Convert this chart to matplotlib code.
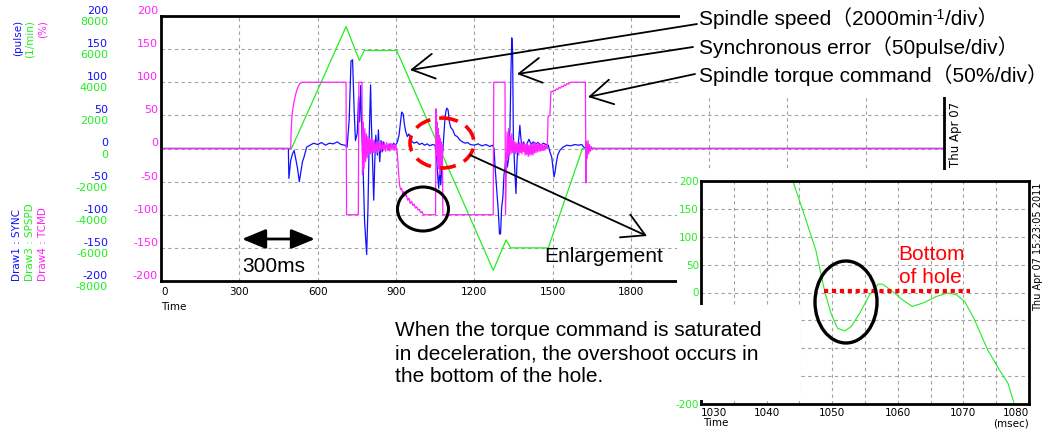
import matplotlib
matplotlib.use("Agg")
import matplotlib.pyplot as plt
from matplotlib.patches import Rectangle, Ellipse

# --- recorded traces (time in msec) ---
# Draw1: synchronous error (pulse)
sync_t = [0, 488, 490, 497, 504, 510, 516, 523, 530, 536, 542, 548, 558, 571, 585, 600,
          615, 630, 645, 660, 675, 690, 705, 713, 721, 728, 734, 740, 745, 752, 757, 761,
          765, 770, 775, 780, 788, 793, 798, 803, 806, 811, 815, 819, 823, 829, 833, 838,
          843, 848, 853, 858, 864, 870, 877, 884, 891, 898, 905, 912, 917, 922, 928, 933,
          938, 944, 950, 956, 963, 970, 980, 990, 1000, 1010, 1020, 1030, 1040, 1050, 1055,
          1060, 1064, 1068, 1072, 1077, 1082, 1087, 1091, 1095, 1100, 1105, 1110, 1118, 1126,
          1135, 1145, 1155, 1165, 1175, 1185, 1200, 1215, 1230, 1245, 1260, 1270, 1276, 1280,
          1286, 1292, 1297, 1301, 1305, 1310, 1314, 1318, 1322, 1327, 1332, 1337, 1341, 1344,
          1347, 1350, 1355, 1360, 1364, 1368, 1372, 1375, 1379, 1384, 1390, 1396, 1403, 1410,
          1418, 1426, 1435, 1445, 1455, 1465, 1475, 1484, 1490, 1497, 1502, 1506, 1510, 1514,
          1520, 1528, 1540, 1555, 1570, 1585, 1600, 1612, 1620, 1628, 1640, 3000]
sync_v = [0, 0, -45, -18, -8, -3, -15, -30, -50, -35, -20, -13, 2, 5, 8, 6,
          9, 5, 8, 7, 10, 6, 5, 2, 43, 132, 134, 58, 12, 23, 78, 40,
          95, 20, -40, -110, -160, -90, 20, 96, 40, -28, -78, -20, 20, -10, 28, -20,
          12, -5, 10, 0, 6, -2, 7, 3, 8, 5, 9, 20, 38, 55, 52, 35,
          25, 18, 22, 14, 10, 8, 10, 6, 8, 5, 7, 4, 6, 5, -10,
          -40, -60, -30, -55, -20, 10, 40, 55, 61, 58, 40, 32, 28, 20,
          18, 13, 10, 8, 9, 6, 5, 7, 4, 6, 3, 5, 0, -28,
          -60, -93, -129, -129, -90, -73, -40, -28, -8, -28, -15, 30, 120, 167,
          150, 20, -30, -68, -20, 5, 20, 35, 15, 0, 10, -2, 8, 14,
          6, 10, 7, 9, 5, 8, 6, 5, -5, -13, -30, -43, -35, -23,
          -10, -3, 2, 5, 4, 6, 5, 6, 2, 0, 0, 0]

# Draw3: spindle speed (1/min)
spd_t = [0, 500, 709, 760, 779, 903, 1273, 1322, 1340, 1484, 1615, 3000]
spd_v = [0, 0, 7360, 5320, 5920, 5920, -7360, -5520, -6000, -6000, 0, 0]

# Draw4: spindle torque command (%)
tcmd_t = [0, 497, 499, 502, 506, 512, 518, 525, 532, 540, 709, 711, 756, 758, 770, 772,
          775, 778, 781, 784, 787, 790, 793, 796, 799, 802, 805, 808, 811, 814, 817, 821,
          825, 829, 833, 837, 841, 845, 849, 853, 857, 861, 865, 869, 873, 877, 881, 885,
          889, 893, 897, 901, 903, 906, 910, 914, 918, 922, 926, 930, 935, 940, 945, 950,
          955, 960, 965, 970, 975, 980, 985, 990, 995, 1000, 1005, 1052, 1054, 1056, 1058,
          1060, 1062, 1064, 1066, 1068, 1070, 1072, 1074, 1076, 1078, 1080, 1273, 1275, 1318,
          1320, 1323, 1326, 1329, 1332, 1335, 1338, 1341, 1344, 1347, 1350, 1353, 1356, 1359,
          1362, 1365, 1368, 1371, 1374, 1377, 1380, 1383, 1386, 1389, 1392, 1395, 1398, 1401,
          1404, 1407, 1410, 1413, 1416, 1419, 1422, 1425, 1428, 1431, 1434, 1437, 1440, 1443,
          1446, 1449, 1452, 1455, 1458, 1461, 1464, 1467, 1470, 1473, 1476, 1480, 1483, 1490,
          1494, 1500, 1505, 1510, 1515, 1520, 1525, 1530, 1535, 1540, 1545, 1550, 1555, 1560,
          1565, 1572, 1626, 1628, 1630, 1633, 1636, 1639, 1642, 1645, 1648, 1652, 1656, 1660,
          3000]
tcmd_v = [0, 0, 30, 50, 62, 75, 85, 93, 98, 100, 100, -100, -100, 100, 100, -40,
          40, -30, 30, -20, 22, -14, 18, -10, 15, -8, 14, -6, 12, -6, 13, -5,
          10, -6, 11, -4, 9, -5, 10, -3, 8, -4, 9, -3, 7, -4, 8, -2,
          6, -3, 6, -2, 0, -10, -35, -55, -62, -60, -68, -65, -72, -70, -78, -75,
          -83, -80, -86, -84, -90, -88, -93, -92, -97, -95, -100, -100, 60, -10, 40,
          -20, 30, -30, 20, -40, 15, -30, 10, -20, 5, -100, -100, 100, 100,
          -100, -40, 25, -15, 30, -10, 18, -8, 22, -6, 12, -5, 10, -8,
          8, -6, 7, -10, 9, -6, 8, -8, 9, -5, 7, -10, 6, -9,
          7, -12, 5, -10, 7, -9, 6, -10, 8, -7, 9, -6, 7, -5,
          8, -4, 7, -4, 6, -3, 5, -3, 6, -2, 4, 0, 48, 50,
          86, 86, 88, 87, 90, 89, 92, 91, 94, 93, 96, 95, 98, 97,
          99, 100, 100, -52, 10, -15, 12, -8, 6, -4, 3, -2, 1, 0,
          0]

# enlarged spindle speed around the bottom of the hole (1/min)
ins_t = [1044.0, 1045.5, 1047.5, 1048.8, 1049.8, 1050.8, 1051.9, 1052.9, 1054.2, 1055.7,
         1057.0, 1057.7, 1059.2, 1060.7, 1062.2, 1063.8, 1065.9, 1067.6, 1068.9, 1070.2,
         1071.7, 1073.7, 1075.5, 1076.8, 1077.7]
ins_v = [200, 148, 76, 5, -37, -64, -69, -61, -37, -4,
         15, 15, 2, -13, -25, -19, -7, -1, -4, -16,
         -49, -103, -139, -163, -198]
hole_t = [1048.8, 1071.0]
hole_v = [3.5, 3.5]

x_ticks = list(range(0, 3001, 300))
x_labels = ["0", "300", "600", "900", "1200", "1500", "1800", "", "", "", ""]
y_ticks = [200, 150, 100, 50, 0, -50, -100, -150, -200]
ins_y_labels = ["200", "150", "100", "50", "0", "", "", "", "-200"]
SPD_PER_DIV = 40  # 1/min per pulse unit on the shared scale

BLUE = "#1010ff"
GREEN = "#22ee22"
MAGENTA = "#ff22ff"
GRID = "#a0a0a0"
FAM = ["Liberation Sans", "Noto Sans CJK JP"]
BIG = 15

W, H = 1058, 432
fig = plt.figure(figsize=(W / 100, H / 100), dpi=100)


def px_rect(left, top, right, bottom):
    return [left / W, 1 - bottom / H, (right - left) / W, (bottom - top) / H]


# main chart
ax = fig.add_axes(px_rect(161, 16, 944, 281), zorder=0)
ax.plot(sync_t, sync_v, color=BLUE, lw=0.9)
ax.plot(spd_t, [v / SPD_PER_DIV for v in spd_v], color=GREEN, lw=0.9)
ax.plot(tcmd_t, tcmd_v, color=MAGENTA, lw=0.9)
ax.set_xlim(0, 3000)
ax.set_ylim(-200, 200)
ax.set_xticks(x_ticks)
ax.set_xticklabels(x_labels)
ax.set_yticks(y_ticks)
ax.set_yticklabels([])
ax.grid(True, color=GRID, ls=(0, (3, 3)), lw=0.8)
ax.tick_params(length=0, labelsize=7.5, pad=4)
ax.get_xticklabels()[0].set_ha("left")
for sp in ax.spines.values():
    sp.set_linewidth(2)

for v in y_ticks:
    ax.annotate(str(v), xy=(0, v), xycoords=("axes fraction", "data"), xytext=(-53, 5),
                textcoords="offset pixels", ha="right", va="center", color=BLUE, fontsize=8,
                annotation_clip=False)
    ax.annotate(str(v * SPD_PER_DIV), xy=(0, v), xycoords=("axes fraction", "data"),
                xytext=(-53, -6), textcoords="offset pixels", ha="right", va="center",
                color=GREEN, fontsize=8, annotation_clip=False)
    ax.annotate(str(v), xy=(0, v), xycoords=("axes fraction", "data"), xytext=(-3, 5),
                textcoords="offset pixels", ha="right", va="center", color=MAGENTA,
                fontsize=8, annotation_clip=False)

ax.annotate("Time", xy=(0, 0), xycoords="axes fraction", xytext=(0, -26),
            textcoords="offset pixels", ha="left", va="center", fontsize=7.5)
ax.annotate("Thu Apr 07", xy=(1, 0.43), xycoords="axes fraction",
            xytext=(12, 0), textcoords="offset pixels", rotation=90, ha="center",
            va="bottom", fontsize=8.5, annotation_clip=False)

# unit and channel names on the left
for x, txt, c in [(18, "(pulse)", BLUE), (30, "(1/min)", GREEN), (43, "(%)", MAGENTA)]:
    fig.text(x / W, 1 - 20 / H, txt, rotation=90, ha="center", va="top", color=c, fontsize=7.5)
for x, txt, c in [(17, "Draw1 : SYNC", BLUE), (30, "Draw3 : SPSPD", GREEN),
                  (43, "Draw4 : TCMD", MAGENTA)]:
    fig.text(x / W, 1 - 281 / H, txt, rotation=90, ha="center", va="bottom", color=c,
             fontsize=7.5)

# white panels behind the labels and the enlarged view
ov1 = fig.add_axes([0, 0, 1, 1], zorder=1)
ov1.set_xlim(0, W)
ov1.set_ylim(H, 0)
ov1.axis("off")
ov1.add_patch(Rectangle((680, 0), W - 680, 97, fc="white", ec="none"))
ov1.add_patch(Rectangle((677, 170), W - 677, H - 170, fc="white", ec="none"))

# enlarged view
ins = fig.add_axes(px_rect(701, 181, 1029, 404), zorder=2)
ins.plot(ins_t, ins_v, color=GREEN, lw=0.8)
ins.plot(hole_t, hole_v, color="red", lw=3, ls=(0, (1, 0.9)), solid_capstyle="butt")
ins.set_xlim(1030, 1080)
ins.set_ylim(-200, 200)
ins.set_xticks(range(1030, 1081, 10))
ins.set_xticks(range(1035, 1080, 10), minor=True)
ins.set_yticks(y_ticks)
ins.set_yticklabels(ins_y_labels)
ins.grid(True, which="both", color=GRID, ls=(0, (3, 3)), lw=0.8)
ins.tick_params(which="both", length=0, labelsize=7.5)
ins.tick_params(axis="x", pad=3)
ins.tick_params(axis="y", pad=1.5, labelcolor=GREEN)
xl = ins.get_xticklabels()
xl[0].set_ha("left")
xl[-1].set_ha("right")
for sp in ins.spines.values():
    sp.set_linewidth(2)
ins.annotate("Time", xy=(0, 0), xycoords="axes fraction", xytext=(2, -19),
             textcoords="offset pixels", ha="left", va="center", fontsize=7.5)
ins.annotate("(msec)", xy=(1, 0), xycoords="axes fraction", xytext=(0, -19),
             textcoords="offset pixels", ha="right", va="center", fontsize=7.5)
ins.annotate("Thu Apr 07 15:23:05 2011", xy=(1, 1), xycoords="axes fraction",
             xytext=(9, -2), textcoords="offset pixels", rotation=90, ha="center",
             va="top", fontsize=7, annotation_clip=False)

# annotations on top
ov2 = fig.add_axes([0, 0, 1, 1], zorder=3)
ov2.set_xlim(0, W)
ov2.set_ylim(H, 0)
ov2.axis("off")
ov2.add_patch(Rectangle((388, 305), 412, 95, fc="white", ec="none"))

ov2.add_patch(Ellipse((442, 143), 64, 50, fill=False, ec="red", lw=2.6, ls=(0, (4.5, 2.5))))
ov2.add_patch(Ellipse((423, 209), 51, 44, fill=False, ec="black", lw=2.2))
ov2.add_patch(Ellipse((846, 302), 62, 82, fill=False, ec="black", lw=2.4))

arrow = dict(arrowstyle="->,head_length=1.6,head_width=0.9", lw=1.3, color="black",
             shrinkA=0, shrinkB=0, mutation_scale=10)
for tail, tip in [((697, 24), (410, 70)), ((693, 47), (517, 74)),
                  ((695, 74), (588, 97)), ((470, 155), (647, 236))]:
    ov2.annotate("", xy=tip, xytext=tail, arrowprops=arrow)

ov2.annotate("", xy=(242, 239), xytext=(315, 239),
             arrowprops=dict(arrowstyle="<|-|>,head_length=1.45,head_width=0.6", lw=2,
                             color="black", shrinkA=0, shrinkB=0, mutation_scale=10))
ov2.text(242, 272, "300ms", fontsize=BIG, family=FAM, ha="left", va="baseline")
ov2.text(544, 262, "Enlargement", fontsize=BIG, family=FAM, ha="left", va="baseline")

t1 = ov2.text(699, 25, "Spindle speed（2000min", fontsize=BIG, family=FAM, va="baseline")
t2 = ov2.annotate("-1", xy=(1, 0.95), xycoords=t1, fontsize=10, family=FAM, va="top",
                  ha="left")
ov2.annotate("/div）", xy=(1, 0), xycoords=(t2, t1), fontsize=BIG, family=FAM,
             va="bottom", ha="left")
ov2.text(699, 54, "Synchronous error（50pulse/div）", fontsize=BIG, family=FAM,
         va="baseline")
ov2.text(699, 82, "Spindle torque command（50%/div）", fontsize=BIG, family=FAM,
         va="baseline")

ov2.text(898, 260, "Bottom", fontsize=BIG, family=FAM, color="red", va="baseline")
ov2.text(899, 283, "of hole", fontsize=BIG, family=FAM, color="red", va="baseline")

for y, line in [(336, "When the torque command is saturated"),
                (359, "in deceleration, the overshoot occurs in"),
                (382, "the bottom of the hole.")]:
    ov2.text(395, y, line, fontsize=BIG, family=FAM, va="baseline")

fig.savefig("out.png", dpi=100)
